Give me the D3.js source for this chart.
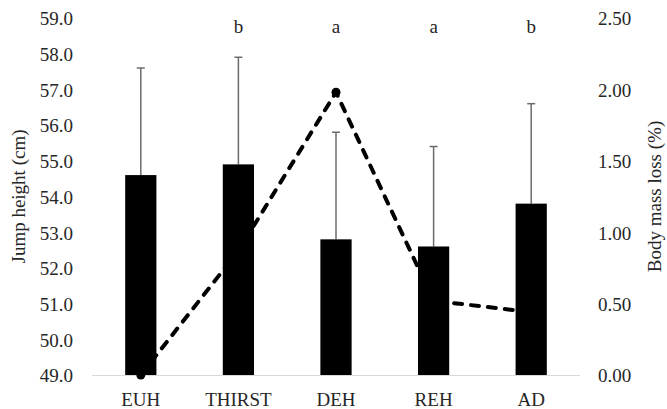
<!DOCTYPE html>
<html>
<head>
<meta charset="utf-8">
<script src="https://cdn.jsdelivr.net/npm/d3@7"></script>
<style>
  html, body { margin: 0; padding: 0; background: #fff; }
  svg { display: block; }
  svg text { font-family: "Liberation Serif", "Times New Roman", "DejaVu Serif", serif !important; fill: #262626; }
</style>
</head>
<body>
<svg id="chart" width="667" height="409"></svg>
<script>
const categories = ["EUH", "THIRST", "DEH", "REH", "AD"];
const jumpHeight = [54.6, 54.9, 52.8, 52.6, 53.8];
const jumpSD = [3.0, 3.0, 3.0, 2.8, 2.8];
const massLoss = [0.00, 0.87, 1.98, 0.52, 0.44];
const sigLetters = ["", "b", "a", "a", "b"];
const leftTicks = [49, 50, 51, 52, 53, 54, 55, 56, 57, 58, 59];
const rightTicks = [0, 0.5, 1.0, 1.5, 2.0, 2.5];

const svg = d3.select("#chart");
const pLeft = 92, pRight = 580, pTop = 18, pBottom = 375;

const x = d3.scaleBand().domain(categories).range([pLeft, pRight])
  .paddingInner(0.68).paddingOuter(0.34);
const yL = d3.scaleLinear().domain([49, 59]).range([pBottom, pTop]);
const yR = d3.scaleLinear().domain([0, 2.5]).range([pBottom, pTop]);

const fs = 19;

// Baseline
svg.append("line")
  .attr("x1", pLeft).attr("x2", pRight)
  .attr("y1", pBottom + 0.5).attr("y2", pBottom + 0.5)
  .attr("stroke", "#d9d9d9").attr("stroke-width", 1);

// Left axis labels
const gl = svg.append("g").attr("transform", `translate(73,0)`)
  .call(d3.axisLeft(yL).tickValues(leftTicks).tickFormat(d3.format(".1f")).tickSize(0).tickPadding(0));
gl.attr("font-family", null).attr("font-size", null);
gl.select(".domain").remove();
gl.selectAll("text").style("font-size", fs + "px").attr("dy", "0.36em").attr("fill", "#262626");

// Right axis labels
const gr = svg.append("g").attr("transform", `translate(598,0)`)
  .call(d3.axisRight(yR).tickValues(rightTicks).tickFormat(d3.format(".2f")).tickSize(0).tickPadding(0));
gr.attr("font-family", null).attr("font-size", null);
gr.select(".domain").remove();
gr.selectAll("text").style("font-size", fs + "px").attr("dy", "0.36em").attr("fill", "#262626");

// X axis labels
const gx = svg.append("g").attr("transform", `translate(0,${pBottom})`)
  .call(d3.axisBottom(x).tickSize(0).tickPadding(0));
gx.attr("font-family", null).attr("font-size", null);
gx.select(".domain").remove();
gx.selectAll("text").style("font-size", fs + "px").attr("dy", null).attr("y", 31).attr("fill", "#262626");

// Axis titles
svg.append("text")
  .attr("transform", `translate(25,${(pTop + pBottom) / 2}) rotate(-90)`)
  .attr("text-anchor", "middle")
  .style("font-size", fs + "px")
  .text("Jump height (cm)");
svg.append("text")
  .attr("transform", `translate(661,${(pTop + pBottom) / 2}) rotate(-90)`)
  .attr("text-anchor", "middle")
  .style("font-size", fs + "px")
  .text("Body mass loss (%)");

const cx = d => x(d) + x.bandwidth() / 2;

// Dashed line (drawn behind bars)
const lineData = categories.map((c, i) => [cx(c), yR(massLoss[i])]);
svg.append("path")
  .attr("d", d3.line()(lineData))
  .attr("fill", "none")
  .attr("stroke", "#000")
  .attr("stroke-width", 4)
  .attr("stroke-linecap", "round")
  .attr("stroke-dasharray", "8,9");
svg.selectAll("circle.mk").data(categories).join("circle")
  .attr("class", "mk")
  .attr("cx", d => cx(d))
  .attr("cy", (d, i) => yR(massLoss[i]))
  .attr("r", 4.5)
  .attr("fill", "#000");

// Error bars
const eb = svg.append("g").attr("stroke", "#6b6b6b").attr("stroke-width", 1.5);
categories.forEach((c, i) => {
  const xc = cx(c);
  const yTop = yL(jumpHeight[i] + jumpSD[i]);
  eb.append("line").attr("x1", xc).attr("x2", xc)
    .attr("y1", yL(jumpHeight[i])).attr("y2", yTop);
  eb.append("line").attr("x1", xc - 4).attr("x2", xc + 4)
    .attr("y1", yTop).attr("y2", yTop);
});

// Bars
svg.selectAll("rect.bar").data(categories).join("rect")
  .attr("class", "bar")
  .attr("x", d => x(d))
  .attr("width", x.bandwidth())
  .attr("y", (d, i) => yL(jumpHeight[i]))
  .attr("height", (d, i) => pBottom - yL(jumpHeight[i]))
  .attr("fill", "#000");

// Significance letters
svg.selectAll("text.sig").data(categories).join("text")
  .attr("class", "sig")
  .attr("x", d => cx(d))
  .attr("y", 33)
  .attr("text-anchor", "middle")
  .style("font-size", fs + "px")
  .text((d, i) => sigLetters[i]);
</script>
</body>
</html>
